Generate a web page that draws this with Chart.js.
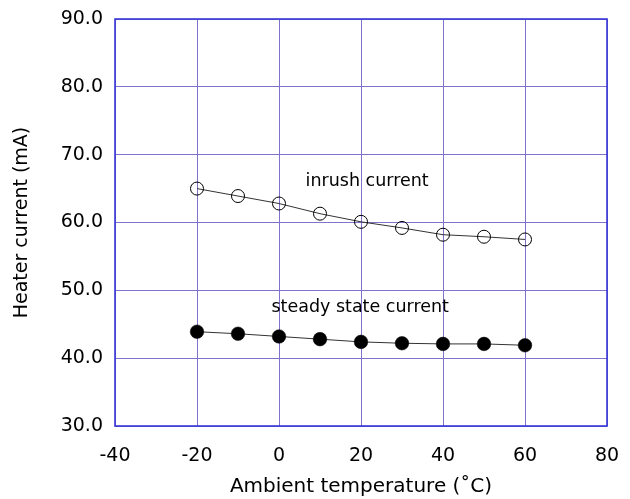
<!DOCTYPE html>
<html>
<head>
<meta charset="utf-8">
<script src="https://cdn.jsdelivr.net/npm/chart.js@4/dist/chart.umd.min.js"></script>
<style>
  html, body { margin: 0; padding: 0; background: #fff; }
  #wrap { width: 630px; height: 499px; }
</style>
</head>
<body>
<div id="wrap"><canvas id="heaterChart"></canvas></div>
<script>
// ambient temperature (deg C)
const temps = [-20, -10, 0, 10, 20, 30, 40, 50, 60];
// heater current (mA)
const inrushCurrent = [65.0, 63.9, 62.8, 61.3, 60.1, 59.2, 58.2, 57.9, 57.5];
const steadyCurrent = [43.9, 43.6, 43.2, 42.8, 42.4, 42.2, 42.1, 42.1, 41.9];
// axes
const xTicks = [-40, -20, 0, 20, 40, 60, 80];
const yTicks = [30, 40, 50, 60, 70, 80, 90];
// text notes placed in data units
const noteText = ['inrush current', 'steady state current'];
const noteX = [21.5, 19.8];
const noteY = [66.1, 47.5];

const FONT = "'DejaVu Sans', sans-serif";
const gridColor = '#7e72cc';
const frameColor = '#3838d8';

const frame = {
    id: 'frame',
    beforeDatasetsDraw(chart) {
        const a = chart.chartArea;
        const ctx = chart.ctx;
        ctx.save();
        ctx.strokeStyle = frameColor;
        ctx.lineWidth = 1.6;
        ctx.strokeRect(a.left, a.top, a.right - a.left, a.bottom - a.top);
        ctx.restore();
    }
};

const notes = {
    id: 'notes',
    afterDatasetsDraw(chart) {
        const ctx = chart.ctx;
        const xs = chart.scales.x, ys = chart.scales.y;
        ctx.save();
        ctx.fillStyle = '#000';
        ctx.font = '17.5px ' + FONT;
        ctx.textAlign = 'center';
        ctx.textBaseline = 'middle';
        noteText.forEach(function(t, i) {
            ctx.fillText(t, xs.getPixelForValue(noteX[i]), ys.getPixelForValue(noteY[i]));
        });
        ctx.restore();
    }
};

const ctx = document.getElementById('heaterChart').getContext('2d');
new Chart(ctx, {
    type: 'line',
    data: {
        datasets: [{
            label: 'inrush current',
            data: temps.map((t, i) => ({ x: t, y: inrushCurrent[i] })),
            borderColor: '#333',
            borderWidth: 1,
            pointRadius: 6.5,
            pointBorderWidth: 1,
            pointBorderColor: '#000',
            pointBackgroundColor: 'rgba(0,0,0,0)',
            tension: 0
        }, {
            label: 'steady state current',
            data: temps.map((t, i) => ({ x: t, y: steadyCurrent[i] })),
            borderColor: '#333',
            borderWidth: 1,
            pointRadius: 6.8,
            pointBorderWidth: 0.5,
            pointBorderColor: '#000',
            pointBackgroundColor: '#000',
            tension: 0
        }]
    },
    options: {
        responsive: true,
        maintainAspectRatio: false,
        animation: false,
        layout: { padding: { top: 19, right: 23, bottom: 0, left: 0 } },
        plugins: {
            legend: { display: false },
            tooltip: { enabled: false }
        },
        scales: {
            x: {
                type: 'linear',
                min: xTicks[0],
                max: xTicks[xTicks.length - 1],
                afterBuildTicks: s => { s.ticks = xTicks.map(v => ({ value: v })); },
                afterFit: s => { s.height = 73; s.paddingLeft = 0; s.paddingRight = 0; },
                grid: { color: gridColor, lineWidth: 1, drawTicks: false },
                border: { display: false },
                ticks: { color: '#000', font: { family: FONT, size: 19 }, padding: 19 },
                title: {
                    display: true,
                    text: 'Ambient temperature (˚C)',
                    color: '#000',
                    font: { family: FONT, size: 20 },
                    padding: { top: 0, bottom: 0 }
                }
            },
            y: {
                min: yTicks[0],
                max: yTicks[yTicks.length - 1],
                afterBuildTicks: s => { s.ticks = yTicks.map(v => ({ value: v })); },
                afterFit: s => { s.width = 115; s.paddingTop = 0; s.paddingBottom = 0; },
                grid: { color: gridColor, lineWidth: 1, drawTicks: false },
                border: { display: false },
                ticks: {
                    color: '#000',
                    font: { family: FONT, size: 19 },
                    padding: 12,
                    callback: v => v.toFixed(1)
                },
                title: {
                    display: true,
                    text: 'Heater current (mA)',
                    color: '#000',
                    font: { family: FONT, size: 19 },
                    padding: { top: 10.5, bottom: 0 }
                }
            }
        }
    },
    plugins: [frame, notes]
});
</script>
</body>
</html>
